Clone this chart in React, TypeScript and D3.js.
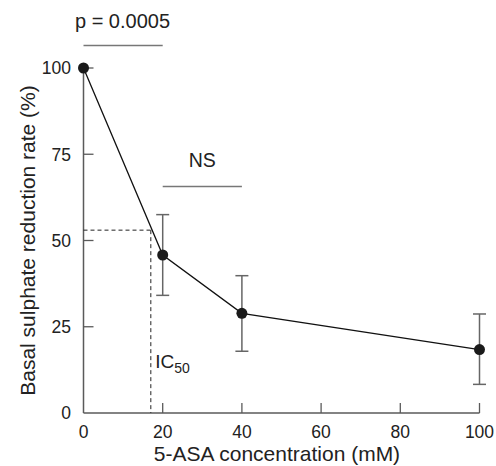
import React from "react";
import * as d3 from "d3";

const concentrations = [0, 20, 40, 100];
const meanRates = [100, 45.8, 28.9, 18.4];
const errLow = [100, 34.1, 17.9, 8.3];
const errHigh = [100, 57.5, 39.8, 28.7];
const xTicks = [0, 20, 40, 60, 80, 100];
const yTicks = [0, 25, 50, 75, 100];
const ic50X = [17];
const ic50Y = [53];
const pBracket = [0, 20];
const nsBracket = [20, 40];

const W = 496;
const H = 466;
const FONT = "'Liberation Sans', Arial, Helvetica, sans-serif";
const AXIS = "#5a5a5a";

export default function App() {
  const x = d3.scaleLinear().domain([0, 100]).range([83.5, 479.5]);
  const y = d3.scaleLinear().domain([0, 100]).range([413, 68]);
  const pts = concentrations.map((c, i) => [c, meanRates[i]] as [number, number]);
  const line = d3
    .line<[number, number]>()
    .x((d) => x(d[0]))
    .y((d) => y(d[1]));

  return (
    <svg
      width={W}
      height={H}
      style={{ position: "absolute", left: 0, top: 0, background: "#fff" }}
      fontFamily={FONT}
    >
      {/* axes */}
      <line x1={x(0)} x2={x(0)} y1={y(0)} y2={y(100)} stroke={AXIS} strokeWidth={1.5} />
      <line x1={x(0)} x2={x(100)} y1={y(0)} y2={y(0)} stroke={AXIS} strokeWidth={1.5} />
      {yTicks.map((t) => (
        <g key={"y" + t}>
          {t > 0 && (
            <line x1={x(0)} x2={x(0) + 10} y1={y(t)} y2={y(t)} stroke={AXIS} strokeWidth={1.3} />
          )}
          <text x={x(0) - 12.5} y={y(t)} dy="0.36em" textAnchor="end" fontSize={17.5} fill="#222">
            {t}
          </text>
        </g>
      ))}
      {xTicks.map((t) => (
        <g key={"x" + t}>
          {t > 0 && (
            <line x1={x(t)} x2={x(t)} y1={y(0)} y2={y(0) - 10} stroke={AXIS} strokeWidth={1.3} />
          )}
          <text x={x(t)} y={y(0) + 25} textAnchor="middle" fontSize={17.5} fill="#222">
            {t}
          </text>
        </g>
      ))}
      <text x={277} y={461} textAnchor="middle" fontSize={21} fill="#222">
        5-ASA concentration (mM)
      </text>
      <text
        transform={`translate(35,240.5) rotate(-90)`}
        textAnchor="middle"
        fontSize={21}
        fill="#222"
      >
        Basal sulphate reduction rate (%)
      </text>

      {/* IC50 dashed guides */}
      <line
        x1={x(0)}
        x2={x(ic50X[0])}
        y1={y(ic50Y[0])}
        y2={y(ic50Y[0])}
        stroke="#222"
        strokeWidth={1}
        strokeDasharray="4,3"
      />
      <line
        x1={x(ic50X[0])}
        x2={x(ic50X[0])}
        y1={y(ic50Y[0])}
        y2={y(0)}
        stroke="#222"
        strokeWidth={1}
        strokeDasharray="4,3"
      />
      <text x={x(ic50X[0]) + 4.5} y={368} fontSize={19} fill="#222">
        IC
        <tspan fontSize={14} dy={4.5}>
          50
        </tspan>
      </text>

      {/* brackets */}
      <line x1={x(pBracket[0])} x2={x(pBracket[1])} y1={45.5} y2={45.5} stroke="#777" strokeWidth={1.5} />
      <text x={122.5} y={27.5} textAnchor="middle" fontSize={20} fill="#222">
        p = 0.0005
      </text>
      <line x1={x(nsBracket[0])} x2={x(nsBracket[1])} y1={186.5} y2={186.5} stroke="#777" strokeWidth={1.5} />
      <text x={(x(nsBracket[0]) + x(nsBracket[1])) / 2} y={167} textAnchor="middle" fontSize={19.5} fill="#222">
        NS
      </text>

      {/* error bars */}
      {concentrations.map((c, i) =>
        errHigh[i] - errLow[i] > 0 ? (
          <g key={"e" + c} stroke="#666" strokeWidth={1.5}>
            <line x1={x(c)} x2={x(c)} y1={y(errLow[i])} y2={y(errHigh[i])} />
            <line x1={x(c) - 6.5} x2={x(c) + 6.5} y1={y(errLow[i])} y2={y(errLow[i])} />
            <line x1={x(c) - 6.5} x2={x(c) + 6.5} y1={y(errHigh[i])} y2={y(errHigh[i])} />
          </g>
        ) : null
      )}

      {/* data line */}
      <path d={line(pts) || ""} fill="none" stroke="#111" strokeWidth={1.3} />
      {pts.map((p) => (
        <circle key={"c" + p[0]} cx={x(p[0])} cy={y(p[1])} r={5.5} fill="#1a1a1a" />
      ))}
    </svg>
  );
}
